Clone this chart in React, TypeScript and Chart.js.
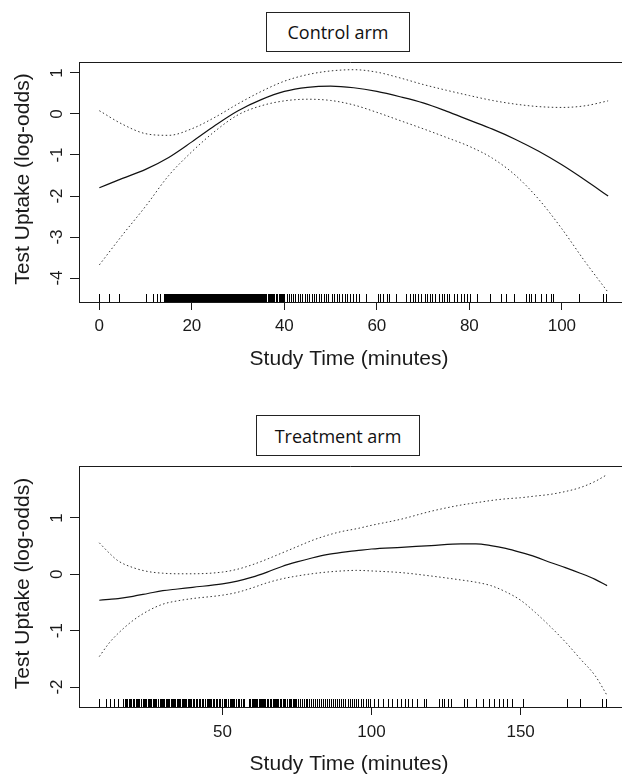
import React, { useEffect, useRef } from "react";
import { Chart, registerables } from "chart.js";

Chart.register(...registerables);

// ---------- Control arm ----------
const controlX = [0, 5, 10, 15, 20, 25, 30, 35, 40, 45, 50, 55, 60, 65, 70, 75, 80, 85, 90, 95, 100, 105, 110];
const controlFit = [-1.8, -1.57, -1.35, -1.06, -0.68, -0.28, 0.08, 0.35, 0.55, 0.65, 0.68, 0.64, 0.55, 0.42, 0.27, 0.07, -0.15, -0.37, -0.62, -0.91, -1.24, -1.61, -2.0];
const controlUpper = [0.08, -0.25, -0.48, -0.52, -0.36, -0.08, 0.25, 0.55, 0.8, 0.96, 1.05, 1.08, 1.02, 0.88, 0.72, 0.58, 0.45, 0.33, 0.24, 0.18, 0.16, 0.2, 0.32];
const controlLower = [-3.68, -2.95, -2.25, -1.5, -0.92, -0.42, -0.02, 0.2, 0.32, 0.36, 0.33, 0.22, 0.04, -0.16, -0.36, -0.57, -0.79, -1.08, -1.5, -2.08, -2.8, -3.6, -4.35];
const controlRug = [
  0, 2.1, 4.3, 10.0, 11.7, 12.5, 13.1,
  13.9, 14.1, 14.3, 14.45, 14.6, 14.8, 15.0, 15.2, 15.35, 15.5, 15.7, 15.9, 16.1, 16.25, 16.4, 16.6, 16.8, 17.0, 17.15,
  17.3, 17.5, 17.7, 17.9, 18.05, 18.2, 18.4, 18.55, 18.7, 18.85, 19.0, 19.2, 19.35, 19.5, 19.65, 19.8,
  20.0, 20.15, 20.3, 20.5, 20.65, 20.8, 20.9, 21.0, 21.15, 21.3, 21.45, 21.6, 21.7, 21.8, 21.95, 22.1, 22.3, 22.45,
  22.6, 22.75, 22.9, 23.0, 23.1, 23.25, 23.4, 23.5, 23.6, 23.75, 23.9, 24.05, 24.2, 24.3, 24.4, 24.55, 24.7, 24.8, 24.9,
  25.05, 25.2, 25.35, 25.5, 25.6, 25.7, 25.85, 26.0, 26.1, 26.2, 26.35, 26.5, 26.65, 26.8, 26.9, 27.0, 27.15, 27.3,
  27.4, 27.5, 27.65, 27.8, 27.95, 28.1, 28.2, 28.3, 28.45, 28.6, 28.75, 28.9, 29.0, 29.1, 29.25, 29.4, 29.5, 29.6,
  29.75, 29.9, 30.05, 30.2, 30.3, 30.4, 30.55, 30.7, 30.85, 31.0, 31.1, 31.2, 31.35, 31.5, 31.65, 31.8, 31.9, 32.0,
  32.15, 32.3, 32.45, 32.6, 32.75, 32.9, 33.0, 33.1, 33.25, 33.4, 33.55, 33.7, 33.85, 34.0, 34.2, 34.35, 34.5, 34.7, 34.9,
  35.2, 35.35, 35.5, 35.8, 35.95, 36.1, 36.4, 36.6, 36.8, 37.1, 37.25, 37.4, 37.6, 37.8, 38.1, 38.3, 38.5, 38.8, 38.95,
  39.2, 39.4, 39.6, 40.0,
  40.5, 41.0, 41.4, 41.9, 42.3, 42.9, 43.3, 43.8, 44.4, 44.8, 45.3, 45.9, 46.4, 46.8, 47.5, 47.9, 48.6, 49.1, 49.5,
  50.2, 50.8, 51.3, 51.9, 52.4, 53.1, 53.6, 54.2, 54.9, 55.5, 56.2,
  57.7, 60.2, 60.7, 61.4, 62.1, 62.6, 64.1, 66.2, 67.2, 67.8, 68.3, 69.0, 69.6, 70.3, 70.9, 71.4, 72.0, 72.6,
  73.4, 74.0, 74.5, 75.1, 75.7, 76.7, 77.4, 78.2, 78.8, 79.5, 80.1, 81.7, 84.5, 86.9, 88.0, 89.6,
  92.3, 93.0, 93.4, 94.2, 95.4, 96.5, 97.7, 98.0, 103.8, 108.8, 109.5,
];
const controlXTicks = [0, 20, 40, 60, 80, 100];
const controlYTicks = [-4, -3, -2, -1, 0, 1];

// ---------- Treatment arm ----------
const treatX = [8.7, 12, 15, 20, 25, 30, 35, 40, 50, 55, 60, 65, 70, 75, 80, 85, 90, 95, 100, 110, 120, 130, 135, 140, 145, 150, 155, 160, 165, 170, 175, 179];
const treatFit = [-0.46, -0.445, -0.43, -0.39, -0.34, -0.29, -0.26, -0.23, -0.17, -0.12, -0.05, 0.04, 0.14, 0.22, 0.29, 0.35, 0.39, 0.42, 0.45, 0.48, 0.51, 0.54, 0.54, 0.51, 0.46, 0.39, 0.31, 0.21, 0.12, 0.02, -0.09, -0.2];
const treatUpper = [0.56, 0.38, 0.24, 0.12, 0.05, 0.02, 0.01, 0.01, 0.04, 0.09, 0.17, 0.27, 0.38, 0.49, 0.6, 0.69, 0.76, 0.81, 0.87, 0.98, 1.12, 1.23, 1.27, 1.31, 1.34, 1.36, 1.39, 1.42, 1.47, 1.54, 1.65, 1.77];
const treatLower = [-1.46, -1.22, -1.05, -0.82, -0.65, -0.53, -0.47, -0.43, -0.37, -0.32, -0.24, -0.15, -0.08, -0.03, 0.01, 0.04, 0.06, 0.07, 0.06, 0.03, -0.03, -0.1, -0.14, -0.2, -0.31, -0.46, -0.68, -0.93, -1.2, -1.5, -1.8, -2.15];
const treatRug = [
  8.7, 10.8, 12.3, 13.5, 14.9,
  16.5, 17.2, 17.6, 18.0, 18.6, 19.1, 19.5, 19.9, 20.4, 21.0, 21.35, 21.7, 22.1, 22.8, 23.3, 23.6, 23.9, 24.4, 25.1,
  25.35, 25.6, 26.0, 26.7, 27.2, 27.5, 27.8, 28.3, 28.9, 29.4, 29.7,
  30.0, 30.5, 31.1, 31.35, 31.6, 32.0, 32.6, 33.1, 33.4, 33.7, 34.2, 34.8, 35.0, 35.3, 35.7, 36.3, 36.8, 37.1, 37.4, 37.9,
  38.3, 38.9, 39.1, 39.4,
  40.0, 40.5, 41.1, 41.3, 41.5, 42.0, 42.6, 43.1, 43.35, 43.6, 44.2, 44.7, 45.1, 45.45, 45.8, 46.2, 46.7, 47.05, 47.3,
  47.8, 48.2, 48.9, 49.05, 49.3, 49.8,
  50.4, 50.9, 51.1, 51.3, 51.9, 52.4, 53.0, 53.2, 53.4, 54.0, 54.5, 55.1, 55.35, 55.6, 56.2, 56.8, 57.3, 58.9, 59.15,
  59.4, 59.9, 60.3, 60.55, 60.8, 61.2, 61.45, 61.7, 62.1, 62.35, 62.6, 63.0, 63.25, 63.5, 63.9, 64.15, 64.4, 64.9,
  65.05, 65.3, 65.8, 66.15, 66.4, 66.9, 67.2, 67.5, 68.0, 68.3, 68.6, 69.3, 69.55, 69.8,
  70.4, 70.75, 71.1, 71.7, 72.2, 72.55, 72.9, 73.5, 74.0, 74.4, 74.8, 75.3, 75.9, 76.6, 77.2, 77.9, 78.5, 79.1, 79.8,
  80.4, 81.1, 81.7, 82.4, 83.0, 83.7, 84.3, 85.0, 85.6, 86.4, 87.0, 87.7, 88.5, 89.1, 89.8,
  90.6, 91.2, 92.0, 92.7, 93.5, 94.1, 94.9, 95.6, 96.4, 97.2, 98.0, 98.8, 99.6,
  100.9, 102.1, 103.9, 105.5, 106.7, 108.7, 109.9, 111.1, 112.3, 113.5, 115.3, 117.7, 118.3,
  122.5, 123.5, 124.3, 125.5, 126.7, 130.9, 132.1, 135.1, 137.5, 139.3, 141.1, 142.9, 144.1, 145.3, 147.1,
  150.7, 165.4, 169.8, 177.4, 178.8,
];
const treatXTicks = [50, 100, 150];
const treatYTicks = [-2, -1, 0, 1];

const xTitle = "Study Time (minutes)";
const yTitle = "Test Uptake (log-odds)";

const AXIS_FONT = '"Liberation Sans", Arial, Helvetica, sans-serif';
const INK = "#1a1a1a";

type PanelCfg = {
  xs: number[];
  fit: number[];
  upper: number[];
  lower: number[];
  rug: number[];
  xTicks: number[];
  yTicks: number[];
  xMin: number;
  xMax: number;
  yMin: number;
  yMax: number;
  top: number;
  axisH: number;
  xTickBase: number;
  xTitleBase: number;
};

function buildPanel(canvas: HTMLCanvasElement, p: PanelCfg) {
  const decor = {
    id: "decor",
    afterDatasetsDraw(chart: any) {
      const { ctx, chartArea } = chart;
      const xs = chart.scales.x;
      ctx.save();
      ctx.strokeStyle = "#000";
      ctx.lineWidth = 1;
      ctx.beginPath();
      const b = chartArea.bottom;
      for (const v of p.rug) {
        const x = Math.round(xs.getPixelForValue(v)) + 0.5;
        ctx.moveTo(x, b);
        ctx.lineTo(x, b - 8);
      }
      ctx.stroke();
      ctx.restore();
    },
    afterDraw(chart: any) {
      const { ctx, chartArea } = chart;
      const xs = chart.scales.x;
      const ys = chart.scales.y;
      ctx.save();
      // top border of the plot box
      ctx.strokeStyle = INK;
      ctx.lineWidth = 1;
      ctx.beginPath();
      const ty = Math.round(chartArea.top) + 0.5;
      ctx.moveTo(chartArea.left, ty);
      ctx.lineTo(chartArea.right, ty);
      ctx.stroke();

      ctx.fillStyle = INK;
      // y tick labels (rotated)
      ctx.font = `17px ${AXIS_FONT}`;
      for (const v of p.yTicks) {
        const y = ys.getPixelForValue(v);
        ctx.save();
        ctx.translate(62, y);
        ctx.rotate(-Math.PI / 2);
        ctx.textAlign = "center";
        ctx.textBaseline = "alphabetic";
        ctx.fillText(String(v), 0, 0);
        ctx.restore();
      }
      // x tick labels
      ctx.textAlign = "center";
      ctx.textBaseline = "alphabetic";
      for (const v of p.xTicks) {
        ctx.fillText(String(v), xs.getPixelForValue(v), p.xTickBase);
      }
      // axis titles
      ctx.font = `21px ${AXIS_FONT}`;
      ctx.fillText(xTitle, 349, p.xTitleBase);
      ctx.save();
      ctx.translate(29, (chartArea.top + chartArea.bottom) / 2 - 3);
      ctx.rotate(-Math.PI / 2);
      ctx.fillText(yTitle, 0, 0);
      ctx.restore();
      ctx.restore();
    },
  };

  const mk = (vals: number[]) => p.xs.map((x, i) => ({ x, y: vals[i] }));

  return new Chart(canvas, {
    type: "line",
    data: {
      datasets: [
        {
          data: mk(p.fit),
          borderColor: "#111",
          borderWidth: 1.2,
          pointRadius: 0,
          cubicInterpolationMode: "monotone",
          fill: false,
        },
        {
          data: mk(p.upper),
          borderColor: "#333",
          borderWidth: 1,
          borderDash: [1.5, 2.5],
          pointRadius: 0,
          cubicInterpolationMode: "monotone",
          fill: false,
        },
        {
          data: mk(p.lower),
          borderColor: "#333",
          borderWidth: 1,
          borderDash: [1.5, 2.5],
          pointRadius: 0,
          cubicInterpolationMode: "monotone",
          fill: false,
        },
      ],
    },
    options: {
      responsive: false,
      animation: false,
      layout: { padding: { top: p.top, left: 0, right: 0, bottom: 0 } },
      plugins: { legend: { display: false }, tooltip: { enabled: false }, title: { display: false } },
      scales: {
        x: {
          type: "linear",
          min: p.xMin,
          max: p.xMax,
          afterBuildTicks: (s: any) => {
            s.ticks = p.xTicks.map((v) => ({ value: v }));
          },
          afterFit: (s: any) => {
            s.height = p.axisH;
          },
          ticks: { display: false },
          grid: { display: true, drawOnChartArea: false, drawTicks: true, tickLength: 8, color: INK, lineWidth: 1 },
          border: { display: true, color: INK, width: 1 },
        },
        y: {
          type: "linear",
          min: p.yMin,
          max: p.yMax,
          afterBuildTicks: (s: any) => {
            s.ticks = p.yTicks.map((v) => ({ value: v }));
          },
          afterFit: (s: any) => {
            s.width = 79;
          },
          ticks: { display: false },
          grid: { display: true, drawOnChartArea: false, drawTicks: true, tickLength: 9, color: INK, lineWidth: 1 },
          border: { display: true, color: INK, width: 1 },
        },
      },
    } as any,
    plugins: [decor],
  } as any);
}

const boxStyle = (left: number, top: number, width: number, height: number): React.CSSProperties => ({
  position: "absolute",
  left,
  top,
  width,
  height,
  boxSizing: "border-box",
  border: "1px solid #222",
  display: "flex",
  alignItems: "center",
  justifyContent: "center",
  fontFamily: '"Open Sans", "Noto Sans", sans-serif',
  fontSize: 18,
  color: "#111",
  background: "#fff",
});

export default function App() {
  const c1 = useRef<HTMLCanvasElement>(null);
  const c2 = useRef<HTMLCanvasElement>(null);

  useEffect(() => {
    const ch1 = buildPanel(c1.current!, {
      xs: controlX,
      fit: controlFit,
      upper: controlUpper,
      lower: controlLower,
      rug: controlRug,
      xTicks: controlXTicks,
      yTicks: controlYTicks,
      xMin: -4.4,
      xMax: 113.0,
      yMin: -4.585,
      yMax: 1.268,
      top: 62,
      axisH: 85,
      xTickBase: 331,
      xTitleBase: 365,
    });
    const ch2 = buildPanel(c2.current!, {
      xs: treatX,
      fit: treatFit,
      upper: treatUpper,
      lower: treatLower,
      rug: treatRug,
      xTicks: treatXTicks,
      yTicks: treatYTicks,
      xMin: 1.9,
      xMax: 184,
      yMin: -2.355,
      yMax: 1.923,
      top: 79,
      axisH: 67,
      xTickBase: 350,
      xTitleBase: 383,
    });
    return () => {
      ch1.destroy();
      ch2.destroy();
    };
  }, []);

  return (
    <div style={{ position: "absolute", left: 0, top: 0, width: 622, height: 774, background: "#fff", overflow: "hidden" }}>
      <canvas ref={c1} width={622} height={387} style={{ position: "absolute", left: 0, top: 0, width: 622, height: 387, display: "block" }} />
      <canvas ref={c2} width={622} height={387} style={{ position: "absolute", left: 0, top: 387, width: 622, height: 387, display: "block" }} />
      <div style={boxStyle(266, 12, 144, 40)}>Control arm</div>
      <div style={boxStyle(256, 415, 164, 41)}>Treatment arm</div>
    </div>
  );
}
